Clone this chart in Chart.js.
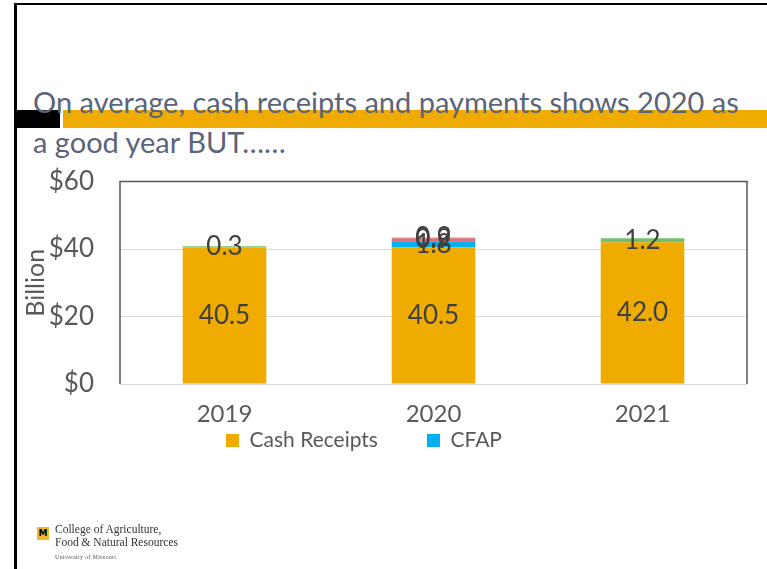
<!DOCTYPE html>
<html>
<head>
<meta charset="utf-8">
<script src="https://cdn.jsdelivr.net/npm/chart.js@4.4.1/dist/chart.umd.min.js"></script>
<style>
  html, body { margin:0; padding:0; background:#fff; }
  body { width:767px; height:569px; position:relative; overflow:hidden; font-family:Lato, sans-serif; }
  .edge-top  { position:absolute; left:14px; top:3px; width:753px; height:2px; background:#000; }
  .edge-left { position:absolute; left:14px; top:3px; width:3px; height:566px; background:#000; }
  .blk  { position:absolute; left:17px; top:110px; width:43px; height:18px; background:#000; }
  .band { position:absolute; left:63px; top:110px; width:704px; height:18px; background:#F0AB00; }
  .title { position:absolute; left:33px; top:82px; width:734px; font-size:29px; line-height:40px; color:#5B6478; white-space:nowrap; }
  #wrap { position:absolute; left:17px; top:140px; width:750px; height:429px; }
  .logo { position:absolute; left:37px; top:527px; width:12px; height:13px; background:#F1B82D;
          font:bold 9px 'DejaVu Sans', sans-serif; color:#000; text-align:center; line-height:13px; }
  .college { position:absolute; left:55px; top:523px; font-family:'Liberation Serif', serif; font-size:11.5px; line-height:13px; color:#333; }
  .college small { font-size:6px; letter-spacing:.3px; color:#555; }
</style>
</head>
<body>
<div class="edge-top"></div>
<div class="edge-left"></div>
<div class="blk"></div>
<div class="band"></div>
<div class="title">On average, cash receipts and payments shows 2020 as<br>a good year BUT……</div>
<div id="wrap"><canvas id="chart"></canvas></div>
<div class="logo">M</div>
<div class="college">College of Agriculture,<br>Food &amp; Natural Resources<br><small>University of Missouri</small></div>

<script>
/* -------- data (billion $) -------- */
const years        = ['2019', '2020', '2021'];
const cashReceipts = [40.5, 40.5, 42.0];
const cfap         = [null, 1.8, null];
const otherAdHoc   = [null, 0.9, null];
const otherPay     = [0.3, 0.2, 1.2];
const yTicks       = [0, 20, 40, 60];

const txtClr = '#404040';
const axClr  = '#595959';
const font   = 'Lato, sans-serif';

/* value labels centred on each segment */
const valueLabels = {
  id:'valueLabels',
  afterDatasetsDraw(chart) {
    const ctx = chart.ctx;
    ctx.save();
    ctx.font = `26px ${font}`;
    ctx.fillStyle = txtClr;
    ctx.textAlign = 'center';
    ctx.textBaseline = 'middle';
    chart.data.datasets.forEach((ds, di) => {
      chart.getDatasetMeta(di).data.forEach((bar, i) => {
        const v = ds.data[i];
        if (v == null) return;
        const { x, y, base } = bar.getProps(['x','y','base'], true);
        ctx.fillText(v.toFixed(1), x, (y + base) / 2);
      });
    });
    ctx.restore();
  }
};

/* plot frame: left, top, right */
const frame = {
  id:'frame',
  afterDatasetsDraw(chart) {
    const { left, top, right, bottom } = chart.chartArea;
    const ctx = chart.ctx;
    ctx.save();
    ctx.strokeStyle = '#555';
    ctx.lineWidth = 1.5;
    ctx.beginPath();
    ctx.moveTo(left, bottom); ctx.lineTo(left, top);
    ctx.lineTo(right, top); ctx.lineTo(right, bottom);
    ctx.stroke();
    ctx.restore();
  }
};

/* pull the legend up under the tick labels, a bit left of centre */
const legendPos = {
  id:'legendPos',
  afterLayout(chart) {
    const lg = chart.legend;
    const h = lg.bottom - lg.top;
    lg.top = 241; lg.bottom = lg.top + h;
    lg.left -= 18; lg.right -= 18;
  }
};

new Chart(document.getElementById('chart'), {
  type:'bar',
  data:{
    labels: years,
    datasets:[
      { label:'Cash Receipts', data:cashReceipts, backgroundColor:'#F0AB00' },
      { label:'CFAP',          data:cfap,         backgroundColor:'#00B0F0' },
      { label:'Other ad hoc',  data:otherAdHoc,   backgroundColor:'#E46C78' },
      { label:'Other',         data:otherPay,     backgroundColor:'#72BF6E' },
    ]
  },
  options:{
    responsive:true, maintainAspectRatio:false, animation:false,
    datasets:{ bar:{ categoryPercentage:0.4, barPercentage:1, borderWidth:0 } },
    layout:{ padding:{ left:0, right:20, top:0, bottom:45 } },
    plugins:{
      legend:{ position:'bottom',
        labels:{ font:{ family:font, size:21 }, color:axClr, boxWidth:13, boxHeight:13, padding:49,
                 filter: item => item.datasetIndex < 2 } },
      tooltip:{ enabled:false },
    },
    scales:{
      x:{ stacked:true,
          grid:{ display:false }, border:{ display:false },
          ticks:{ font:{ family:font, size:24 }, color:axClr, padding:8 },
          afterFit(s) { s.height = 60; } },
      y:{ stacked:true, min:0, max:60,
          afterBuildTicks(s) { s.ticks = yTicks.map(v => ({ value:v })); },
          grid:{ color:'#D9D9D9', drawTicks:false }, border:{ display:false },
          ticks:{ font:{ family:font, size:26 }, color:axClr, padding:26, callback: v => '$' + v },
          title:{ display:true, text:'Billion', font:{ family:font, size:25 }, color:axClr, padding:{ top:4, bottom:0 } },
          afterFit(s) { s.width = 103; } },
    }
  },
  plugins:[valueLabels, frame, legendPos]
});
</script>
</body>
</html>
